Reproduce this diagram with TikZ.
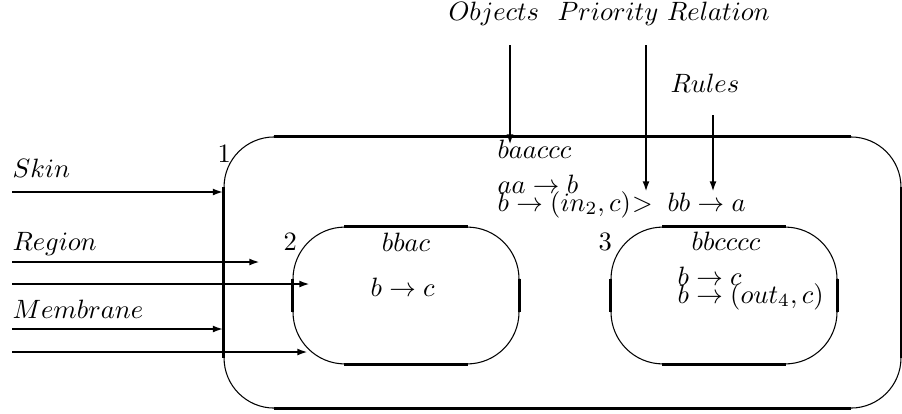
\documentclass[tikz,border=0pt]{standalone}
\usepackage{amsmath,amssymb}
\usetikzlibrary{arrows.meta, positioning, calc}

\begin{document}
\begin{tikzpicture}[
  x=0.377pt, y=-0.377pt,
  outer/.style={draw, line width=0.4pt, rounded corners=18.9pt, minimum width=255.2pt, minimum height=102.2pt, inner sep=0pt},
  inner/.style={draw, line width=0.4pt, rounded corners=19.6pt, minimum width=85.2pt, minimum height=51.6pt, inner sep=0pt},
  lab/.style={anchor=base west, inner sep=0pt},
  feed/.style={-{Latex[length=4pt,width=2.6pt]}, line width=0.8pt},
  heavy/.style={feed, line width=1.1pt},
  edge/.style={line width=1.1pt}
]
\useasboundingbox (0,0) rectangle (902,413);

% membranes
\node[outer] (skin) at (562.5,272.5) {};
\node[inner] (reg2) at (406,295.5) {};
\node[inner] (reg3) at (724,295.5) {};

% straight parts are heavier
\draw[edge] ([xshift=18.9pt]skin.north west) -- ([xshift=-18.9pt]skin.north east);
\draw[edge] ([xshift=18.9pt]skin.south west) -- ([xshift=-18.9pt]skin.south east);
\draw[edge] ([yshift=-18.9pt]skin.north west) -- ([yshift=18.9pt]skin.south west);
\draw[edge] ([yshift=-18.9pt]skin.north east) -- ([yshift=18.9pt]skin.south east);
\foreach \r in {reg2,reg3}{
  \draw[edge] ([xshift=19.6pt]\r.north west) -- ([xshift=-19.6pt]\r.north east);
  \draw[edge] ([xshift=19.6pt]\r.south west) -- ([xshift=-19.6pt]\r.south east);
  \draw[edge] ([yshift=-19.6pt]\r.north west) -- ([yshift=19.6pt]\r.south west);
  \draw[edge] ([yshift=-19.6pt]\r.north east) -- ([yshift=19.6pt]\r.south east);
}

% membrane labels
\node[lab] (n1) at (217,162) {$1$};
\node[lab] (n2) at (283,250) {$2$};
\node[lab] (n3) at (598,250) {$3$};

% contents of region 1
\node[lab] (obj1) at (497,158) {$baaccc$};
\node[lab] (rla) at (497,193) {$aa \to b$};
\node[lab] (rlb) at (497,211) {$b \to (in_2, c)$};
\node[lab, anchor=base west] (prio) at (rlb.base east) {$>$};
\node[lab] (rlc) at (667,211) {$bb \to a$};

% contents of regions 2 and 3
\node[lab, anchor=base] (obj2) at (406,251) {$bbac$};
\node[lab] (rl2) at (370,296) {$b \to c$};
\node[lab, anchor=base] (obj3) at (726,250) {$bbcccc$};
\node[lab] (rl3a) at (677,285) {$b \to c$};
\node[lab] (rl3b) at (677,303) {$b \to (out_4, c)$};

% captions
\node[lab] (cobj) at (448,20) {$Objects$};
\node[lab] (cprio) at (557,20) {$Priority\ Relation$};
\node[lab] (crule) at (670,92) {$Rules$};
\node[lab] (cskin) at (12,177) {$Skin$};
\node[lab] (creg) at (12,250) {$Region$};
\node[lab] (cmem) at (12,318) {$Membrane$};

% pointers from the top
\coordinate (tobj) at (510,45);
\coordinate (tprio) at (646,45);
\coordinate (trule) at (713,115);
\draw[heavy] (tobj) -- (510,145);
\draw[heavy] (tprio) -- (646,192);
\draw[heavy] (trule) -- (713,192);

% pointers from the left
\coordinate (sa) at (12,192);
\coordinate (sb) at (12,262);
\coordinate (sc) at (12,284);
\coordinate (sd) at (12,329);
\coordinate (se) at (12,352);
\draw[heavy] (sa) -- (sa -| skin.west);
\draw[feed] (sb) -- (260,262);
\draw[heavy] (sc) -- (310,284);
\draw[feed] (sd) -- (sd -| skin.west);
\draw[feed] (se) -- (308,352);
\end{tikzpicture}
\end{document}
